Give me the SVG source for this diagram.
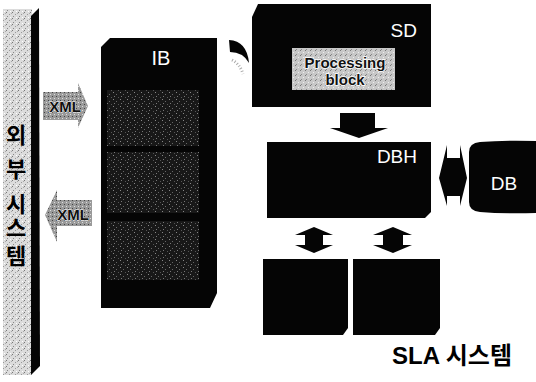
<svg xmlns="http://www.w3.org/2000/svg" width="536" height="382" viewBox="0 0 536 382">
<defs>
<pattern id="stip" width="6" height="6" patternUnits="userSpaceOnUse">
<rect width="6" height="6" fill="#dcdcdc"/>
<rect x="0" y="0" width="1" height="1" fill="#777"/>
<rect x="3" y="2" width="1" height="1" fill="#999"/>
<rect x="1" y="4" width="1" height="1" fill="#888"/>
<rect x="4" y="5" width="1" height="1" fill="#fff"/>
<rect x="5" y="1" width="1" height="1" fill="#aaa"/>
</pattern>
<pattern id="dark" width="7" height="7" patternUnits="userSpaceOnUse">
<rect width="7" height="7" fill="#181818"/>
<rect x="1" y="1" width="1" height="1" fill="#888"/>
<rect x="4" y="3" width="1" height="1" fill="#666"/>
<rect x="2" y="5" width="1" height="1" fill="#777"/>
<rect x="6" y="6" width="1" height="1" fill="#555"/>
</pattern>
<pattern id="grayarrow" width="4" height="4" patternUnits="userSpaceOnUse">
<rect width="4" height="4" fill="#9a9a9a"/>
<rect x="0" y="0" width="1" height="1" fill="#444"/>
<rect x="2" y="2" width="1" height="1" fill="#ddd"/>
</pattern>
<pattern id="procfill" width="5" height="5" patternUnits="userSpaceOnUse">
<rect width="5" height="5" fill="#c8c8c8"/>
<rect x="0" y="0" width="1" height="1" fill="#777"/>
<rect x="3" y="2" width="1" height="1" fill="#eee"/>
<rect x="1" y="4" width="1" height="1" fill="#888"/>
</pattern>
</defs>
<style>
.blk{fill:#050505}
.wt{fill:#fff;font-family:"Liberation Sans",Arial,sans-serif}
.kr{font-family:"Liberation Sans","Noto Sans CJK KR",sans-serif;font-weight:bold;fill:#000}
.xml{font-family:"Liberation Sans",Arial,sans-serif;font-weight:bold;font-size:15px;fill:#111;stroke:#fff;stroke-width:0.8;paint-order:stroke}
.proc{font-family:"Liberation Sans",Arial,sans-serif;font-weight:bold;font-size:15px;fill:#111;stroke:#fff;stroke-width:1.5;paint-order:stroke}
</style>

<g id="external-system">
<rect x="3" y="9" width="29" height="366" fill="url(#stip)"/>
<polygon class="blk" points="31,16 39,8 40,366 31,375"/>
<text class="kr" x="16" y="143" font-size="22" text-anchor="middle">외</text>
<text class="kr" x="16" y="177" font-size="22" text-anchor="middle">부</text>
<text class="kr" x="16" y="212" font-size="22" text-anchor="middle">시</text>
<text class="kr" x="16" y="236" font-size="22" text-anchor="middle">스</text>
<text class="kr" x="16" y="264" font-size="22" text-anchor="middle">템</text>
</g>

<g id="IB">
<polygon class="blk" points="110,38 217,38 217,293 210,308 101,308 101,47"/>
<text class="wt" x="161" y="65" font-size="20" text-anchor="middle">IB</text>
<rect x="107" y="90" width="92" height="56" fill="url(#dark)"/>
<rect x="107" y="152" width="92" height="61" fill="url(#dark)"/>
<rect x="107" y="221" width="92" height="59" fill="url(#dark)"/>
</g>

<g id="SD">
<polygon class="blk" points="258,4 431,4 431,107 252,107 252,17"/>
<text class="wt" x="417" y="37" font-size="19" text-anchor="end">SD</text>
</g>
<g id="processing-block">
<rect x="292" y="48" width="103" height="42" fill="url(#procfill)"/>
<text class="proc" x="345" y="68" text-anchor="middle">Processing</text>
<text class="proc" x="345" y="85" text-anchor="middle">block</text>
</g>

<g id="DBH">
<polygon class="blk" points="267,142 431,142 431,212 425,218 267,218"/>
<text class="wt" x="417" y="163" font-size="19" text-anchor="end">DBH</text>
</g>

<g id="DB">
<path class="blk" d="M469,152 Q469,143 480,142 Q505,140 536,141 L536,213 Q505,214 480,212 Q469,211 469,202 Z"/>
<text class="wt" x="504" y="190" font-size="19" text-anchor="middle">DB</text>
</g>

<g id="box1">
<polygon class="blk" points="263,259 348,259 348,328 343,335 263,335"/>
</g>
<g id="box2">
<polygon class="blk" points="353,259 440,259 440,328 435,335 353,335"/>
</g>

<g id="connectors">
<polygon fill="url(#grayarrow)" points="43,92 78,92 78,83 88,106 78,128 78,120 43,120"/>
<text class="xml" x="65" y="112" text-anchor="middle">XML</text>
<polygon fill="url(#grayarrow)" points="92,200 57,200 57,190 45,215 57,242 57,226 92,226"/>
<text class="xml" x="73" y="220" text-anchor="middle">XML</text>
<path class="blk" d="M229,40 Q247,41 249,63 Q243,52 230,52 Z"/>
<path d="M232,60 Q240,64 243,74" fill="none" stroke="#aaa" stroke-width="3" stroke-dasharray="1 2"/>
<polygon class="blk" points="340,113 375,113 375,128 388,128 359,138 330,128 340,128"/>
<polygon class="blk" points="439,178 447,145 447,158 460,158 460,145 467,178 460,206 460,196 447,196 447,206"/>
<polygon class="blk" points="314,227 333,235 323,235 323,245 333,245 314,253 295,245 305,245 305,235 295,235"/>
<polygon class="blk" points="393,227 412,235 403,235 403,245 412,245 393,253 373,245 383,245 383,235 373,235"/>
</g>

<g id="title">
<text class="kr" x="392" y="364" font-size="24">SLA 시스템</text>
</g>
</svg>
